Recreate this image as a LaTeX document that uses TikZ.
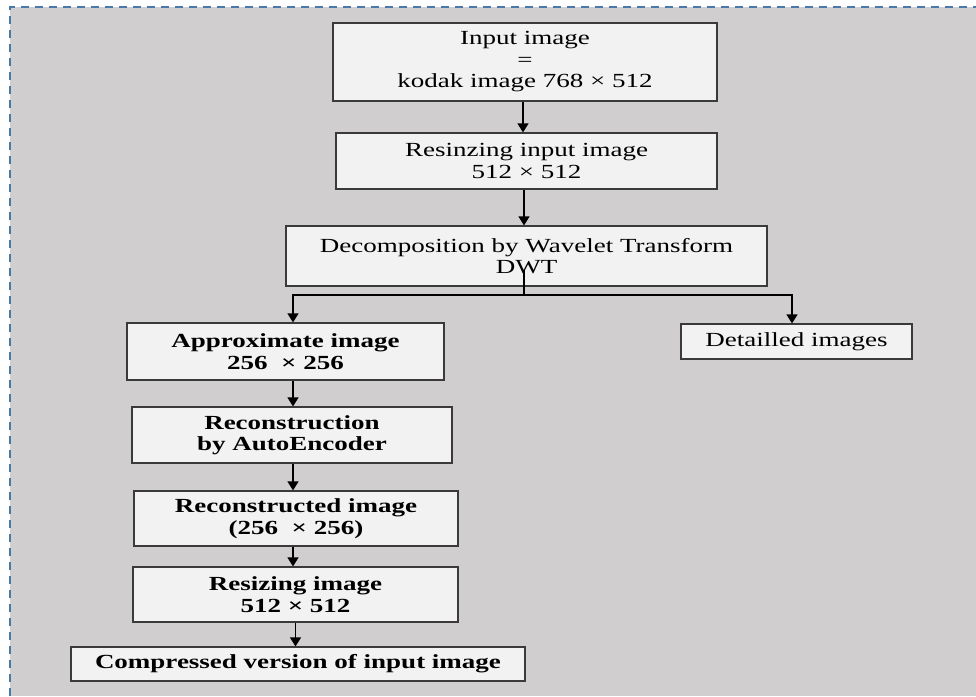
\documentclass[tikz,border=0pt]{standalone}
\usepackage{fontspec}
\setmainfont[FakeStretch=1.35]{Liberation Serif}
\usetikzlibrary{arrows.meta}
\definecolor{bg}{HTML}{D0CECF}
\definecolor{boxfill}{HTML}{F2F2F2}
\definecolor{boxline}{HTML}{3A3A3A}
\definecolor{dashblue}{HTML}{4A78A8}
\tikzset{
  box/.style={draw=boxline, fill=boxfill, line width=1.2pt, inner sep=0pt, align=center,
    font=\fontsize{20}{21.5}\selectfont},
  bbox/.style={box, font=\fontsize{20}{21.5}\selectfont\bfseries},
  link/.style={draw=black, line width=1.2pt},
  arr/.style={link, -{Triangle[width=11pt,length=9pt]}}
}
\begin{document}
\begin{tikzpicture}[x=1pt,y=-1pt]
\useasboundingbox (0,0) rectangle (976,696);
\fill[white] (0,0) rectangle (976,696);
\fill[bg] (10,7) rectangle (976,696);
\draw[dashblue, line width=2pt, dash pattern=on 8pt off 6pt] (10,696) -- (10,7) -- (976,7);

\node[box, minimum width=384pt, minimum height=78pt] (b1) at (525,62) {Input image\\=\\kodak image 768 × 512};
\node[box, minimum width=381pt, minimum height=56pt] (b2) at (526.5,161) {Resinzing input image\\512 × 512};
\node[box, minimum width=481pt, minimum height=60pt] (b3) at (526.5,256) {Decomposition by Wavelet Transform\\DWT};
\node[bbox, minimum width=317pt, minimum height=57pt] (b4) at (285.5,351.5) {Approximate image\\256~~× 256};
\node[box, minimum width=231pt, minimum height=35pt] (b5) at (796.5,341.5) {Detailled images};
\node[bbox, minimum width=320pt, minimum height=56pt] (b6) at (292,435) {Reconstruction\\by AutoEncoder};
\node[bbox, minimum width=324pt, minimum height=55pt] (b7) at (296,518.5) {Reconstructed image\\(256~~× 256)};
\node[bbox, minimum width=325pt, minimum height=55pt] (b8) at (295.5,594.5) {Resizing image\\512 × 512};
\node[bbox, minimum width=454pt, minimum height=34pt] (b9) at (298,664) {Compressed version of input image};

\coordinate (colA) at (523,0);
\coordinate (colL) at (293,0);
\coordinate (colR) at (792,0);
\coordinate (dwtin) at (524,270);
\coordinate (split) at (524,295);

\draw[arr] (b1.south -| colA) -- (b2.north -| colA);
\draw[arr] (b2.south -| dwtin) -- (b3.north -| dwtin);
\draw[link] (dwtin) -- (split);
\draw[arr] (split) -| (b4.north -| colL);
\draw[arr] (split) -| (b5.north -| colR);
\draw[arr] (b4.south -| colL) -- (b6.north -| colL);
\draw[arr] (b6.south -| colL) -- (b7.north -| colL);
\draw[arr] (b7.south -| colL) -- (b8.north -| colL);
\draw[arr] (b8.south) -- (b8.south |- b9.north);
\end{tikzpicture}
\end{document}
